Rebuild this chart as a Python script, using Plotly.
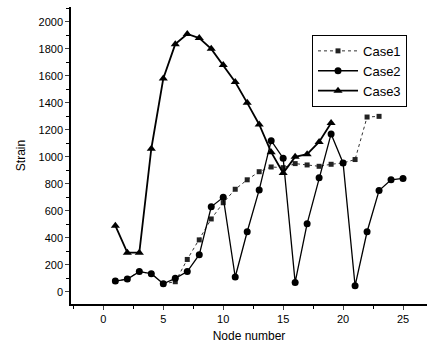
import plotly.graph_objects as go

nodes1 = list(range(1, 24))
case1 = [80, 95, 150, 135, 60, 75, 240, 385, 540, 660, 760, 830, 890, 925, 920, 950, 940, 930, 945, 955, 980, 1295, 1300]
nodes2 = list(range(1, 26))
case2 = [80, 95, 150, 135, 60, 100, 150, 275, 630, 700, 110, 445, 755, 1120, 990, 70, 505, 845, 1170, 955, 45, 445, 750, 830, 840]
nodes3 = list(range(1, 20))
case3 = [490, 290, 290, 1060, 1580, 1835, 1910, 1880, 1800, 1680, 1555, 1400, 1240, 1035, 880, 1000, 1020, 1110, 1250]

x_ticks = [0, 5, 10, 15, 20, 25]
y_ticks = list(range(0, 2001, 200))

fig = go.Figure()
fig.add_trace(go.Scatter(x=nodes1, y=case1, name="Case1", mode="lines+markers",
                         line=dict(color="#333333", width=1, dash="dot"),
                         marker=dict(symbol="square", size=5, color="#222222")))
fig.add_trace(go.Scatter(x=nodes2, y=case2, name="Case2", mode="lines+markers",
                         line=dict(color="black", width=1.3),
                         marker=dict(symbol="circle", size=7, color="black")))
fig.add_trace(go.Scatter(x=nodes3, y=case3, name="Case3", mode="lines+markers",
                         line=dict(color="black", width=1.8),
                         marker=dict(symbol="triangle-up", size=8, color="black")))

fig.update_layout(
    width=430, height=351,
    margin=dict(l=71, r=3, t=7, b=47),
    paper_bgcolor="white", plot_bgcolor="white",
    font=dict(family="Liberation Sans, Arial, sans-serif", color="black", size=11),
    showlegend=True,
    legend=dict(x=0.677, y=0.906, xanchor="left", yanchor="top",
                bordercolor="black", borderwidth=1, bgcolor="white",
                font=dict(size=13, family="Liberation Sans, Arial, sans-serif"),
                tracegroupgap=0, itemwidth=40),
)
fig.update_xaxes(range=[-2.7, 27], tickvals=x_ticks, ticks="outside", ticklen=4,
                 tickwidth=1.2, showline=True, linecolor="black", linewidth=1.5,
                 showgrid=False, zeroline=False,
                 minor=dict(dtick=2.5, ticks="outside", ticklen=3, tickcolor="black"),
                 title=dict(text="Node number", font=dict(size=12), standoff=8))
fig.update_yaxes(range=[-90, 2110], tickvals=y_ticks, ticks="outside", ticklen=4,
                 tickwidth=1.2, showline=True, linecolor="black", linewidth=1.5,
                 showgrid=False, zeroline=False,
                 minor=dict(dtick=100, ticks="outside", ticklen=3, tickcolor="black"),
                 title=dict(text="Strain", font=dict(size=12), standoff=10))

fig.write_html("out.html", config={"displayModeBar": False},
               post_script="document.body.style.margin='0px';")
